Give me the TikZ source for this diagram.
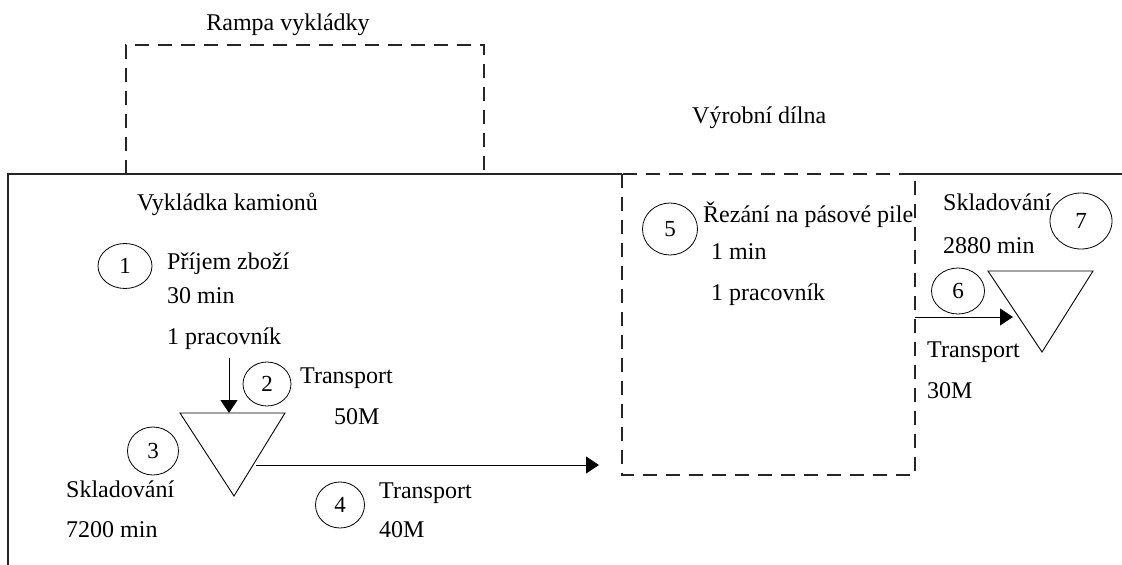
\documentclass[tikz,border=0pt]{standalone}
\usepackage{fontspec}
\setmainfont{Liberation Serif}
\usetikzlibrary{shapes.geometric,arrows.meta}
\begin{document}
\begin{tikzpicture}[x=1pt,y=-1pt,
  lbl/.style={anchor=west,inner sep=0pt,text height=16pt,text depth=5.5pt,
    font=\fontsize{24}{28}\selectfont},
  num/.style={ellipse,draw,line width=0.8pt,inner sep=0pt,
    font=\fontsize{23}{27}\selectfont},
  wall/.style={line width=1.3pt,draw=black!85},
  zone/.style={line width=1.2pt,draw=black!85,dash pattern=on 14pt off 9pt},
  flow/.style={line width=1pt,-{Triangle[length=13pt,width=17pt]}},
  store/.style={line width=0.9pt}]
\useasboundingbox (0,0) rectangle (1122,565);

% building outline
\draw[wall] (8,565) -- (8,174) -- (622,174);
\draw[wall] (900,174) -- (1122,174);

% unloading ramp
\draw[zone] (126,174) -- (126,45) -- (484,45) -- (484,174);
\node[lbl,anchor=center] (ramp) at (288,25) {Rampa vykládky};

% production workshop (cutting area)
\draw[zone] (622,174) rectangle (915,475);
\node[lbl] (shop) at (692,118) {Výrobní dílna};

% unloading area
\node[lbl] (unl) at (137,205) {Vykládka kamionů};
\node[num,minimum width=54pt,minimum height=45pt] (c1) at (125,266) {1};
\node[lbl] (t1a) at (167,264) {Příjem zboží};
\node[lbl] (t1b) at (167,298) {30 min};
\node[lbl] (t1c) at (167,339) {1 pracovník};

% storage 1
\coordinate (s1l) at (180,413);
\coordinate (s1r) at (285,413);
\coordinate (s1b) at (234,496);
\draw[store] (s1l) -- (s1r) -- (s1b) -- cycle;
\coordinate (s1top) at (229,413);
\coordinate (a1s) at (229,358);
\draw[flow] (a1s) -- (s1top);

\node[num,minimum width=48pt,minimum height=44pt] (c2) at (267,384) {2};
\node[lbl] (t2a) at (300,378) {Transport};
\node[lbl] (t2b) at (334,419) {50M};

\node[num,minimum width=51pt,minimum height=48pt] (c3) at (153,451) {3};
\node[lbl] (t3a) at (66,492) {Skladování};
\node[lbl] (t3b) at (66,532) {7200 min};

% transport to the saw
\coordinate (s1out) at (256,465);
\coordinate (a4e) at (599,465);
\draw[flow] (s1out) -- (a4e);
\node[num,minimum width=49pt,minimum height=46pt] (c4) at (340,505) {4};
\node[lbl] (t4a) at (379,493) {Transport};
\node[lbl] (t4b) at (379,532) {40M};

% band saw
\node[num,minimum width=55pt,minimum height=52pt] (c5) at (670,229) {5};
\node[lbl] (t5a) at (703,217) {Řezání na pásové pile};
\node[lbl] (t5b) at (711,254) {1 min};
\node[lbl] (t5c) at (711,295) {1 pracovník};

% storage 2
\coordinate (s2l) at (988,271);
\coordinate (s2r) at (1093,271);
\coordinate (s2b) at (1042,352);
\draw[store] (s2l) -- (s2r) -- (s2b) -- cycle;
\coordinate (a6s) at (915,317);
\coordinate (a6e) at (1013,317);
\draw[flow] (a6s) -- (a6e);

\node[num,minimum width=53pt,minimum height=46pt] (c6) at (958,291) {6};
\node[lbl] (t6a) at (927,352) {Transport};
\node[lbl] (t6b) at (927,393) {30M};

\node[num,minimum width=62pt,minimum height=56pt] (c7) at (1081,221) {7};
\node[lbl] (t7a) at (943,205) {Skladování};
\node[lbl] (t7b) at (943,248) {2880 min};
\end{tikzpicture}
\end{document}
